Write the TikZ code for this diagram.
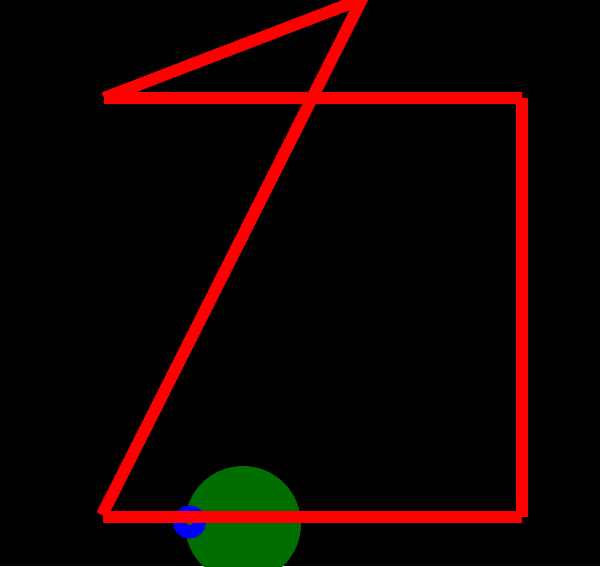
\documentclass[tikz,border=0pt]{standalone}
\begin{document}
\begin{tikzpicture}[x=1pt,y=-1pt,
  redline/.style={draw=red,line width=12pt,line cap=butt},
]
\fill[black] (0,0) rectangle (600,566);
\useasboundingbox (0,0) rectangle (600,566);
\fill[green!40!black!90!green,fill={rgb,255:red,0;green,110;blue,0}] (243,524) circle (58);
\draw[blue,line width=13pt] (189.5,522) circle (10);
\coordinate (a) at (104,98);
\coordinate (b) at (522,98);
\coordinate (c) at (522,517);
\coordinate (d) at (103,517);
\coordinate (e) at (102,515);
\coordinate (apex) at (362,-1);
\draw[redline] (a) -- (b);
\draw[redline] (b) -- (c);
\draw[redline] (c) -- (d);
\draw[redline,line join=miter] (a) -- (apex) -- (e);
\end{tikzpicture}
\end{document}
